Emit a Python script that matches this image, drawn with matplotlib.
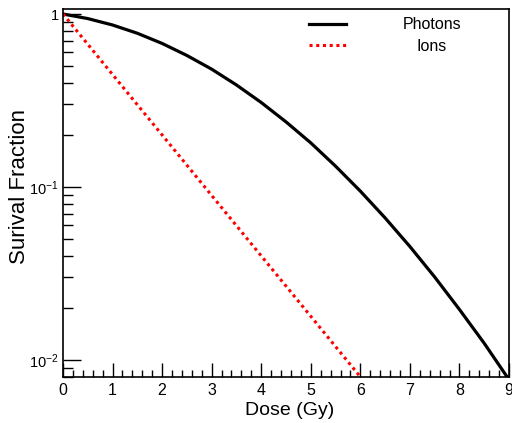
import numpy as np
import matplotlib
matplotlib.use("Agg")
import matplotlib.pyplot as plt
from matplotlib.ticker import FixedLocator, MultipleLocator, FixedFormatter

plt.rcParams['font.family'] = ['Liberation Sans', 'DejaVu Sans']
plt.rcParams['mathtext.fontset'] = 'custom'
plt.rcParams['mathtext.rm'] = 'Liberation Sans'
plt.rcParams['mathtext.it'] = 'Liberation Sans:italic'

# survival curves
dose_photons = [0, 0.5, 1.0, 1.5, 2.0, 2.5, 3.0, 3.5, 4.0, 4.5, 5.0, 5.5,
                6.0, 6.5, 7.0, 7.5, 8.0, 8.5, 9.0]
sf_photons = [1.0, 0.941, 0.864, 0.774, 0.676, 0.576, 0.480, 0.389, 0.308, 0.238,
              0.180, 0.132, 0.0947, 0.0663, 0.0453, 0.0302, 0.0196, 0.0125, 0.0077]

dose_ions = [0, 1, 2, 3, 4, 5, 6]
sf_ions = [1.0, 0.447, 0.2, 0.0894, 0.04, 0.0179, 0.008]

labels = ["Photons", "Ions"]

fig = plt.figure(figsize=(5.12, 4.23), dpi=100)
ax = fig.add_axes([63/512, 1 - 377/423, (509 - 63)/512, (377 - 9)/423])

ax.plot(dose_photons, sf_photons, color='black', lw=2.3, solid_joinstyle='round')
ax.plot(dose_ions, sf_ions, color='red', lw=2.2, linestyle=(0, (1, 1.2)))

ax.set_yscale('log')
ax.set_xlim(0, 9)
ax.set_ylim(0.00798, 1.069)

ax.xaxis.set_major_locator(MultipleLocator(1))
ax.xaxis.set_minor_locator(MultipleLocator(0.2))
ax.yaxis.set_major_locator(FixedLocator([0.01, 0.1, 1]))
ax.yaxis.set_major_formatter(FixedFormatter([r'$10^{-2}$', r'$10^{-1}$', '1']))
minors = [m * 10.0**e for e in (-3, -2, -1) for m in range(2, 10)]
ax.yaxis.set_minor_locator(FixedLocator(minors))

ax.tick_params(axis='both', which='both', direction='in', top=False, right=False,
               width=1, color='black')
ax.tick_params(axis='x', which='major', length=10, pad=4, labelsize=11.5)
ax.tick_params(axis='x', which='minor', length=5)
ax.tick_params(axis='y', which='major', length=13, pad=3, labelsize=10.5)
ax.tick_params(axis='y', which='minor', length=7)
for s in ax.spines.values():
    s.set_linewidth(1.2)

ax.set_xlabel("Dose (Gy)", fontsize=14, va='center')
ax.xaxis.set_label_coords(0.509, -0.092)
ax.set_ylabel("Surival Fraction", fontsize=16, va='center')
ax.yaxis.set_label_coords(-0.097, 0.519)

# ROOT-like legend: sample line on the left, centred text on the right
ax.plot([0.551, 0.634], [0.96, 0.96], color='black', lw=2.3, transform=ax.transAxes)
ax.plot([0.551, 0.634], [0.902, 0.902], color='red', lw=2.2,
        linestyle=(0, (1, 1.2)), transform=ax.transAxes)
ax.text(0.827, 0.957, labels[0], transform=ax.transAxes, ha='center', va='center', fontsize=11.5)
ax.text(0.827, 0.899, labels[1], transform=ax.transAxes, ha='center', va='center', fontsize=11.5)

fig.savefig("out.png", dpi=100)
